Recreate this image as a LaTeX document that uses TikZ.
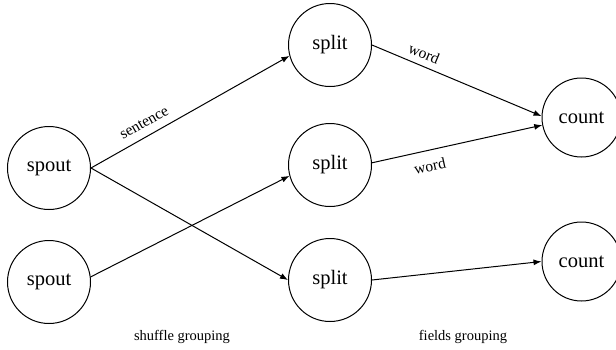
\documentclass[tikz,border=0pt]{standalone}
\usepackage{fontspec}
\setmainfont{Liberation Serif}
\usetikzlibrary{arrows.meta}
\begin{document}
\begin{tikzpicture}[x=1pt,y=-1pt,
  proc/.style={circle,draw,line width=1pt,minimum size=83pt,inner sep=0pt,font=\fontsize{20.5}{24}\selectfont},
  procs/.style={circle,draw,line width=1pt,minimum size=79pt,inner sep=0pt,font=\fontsize{20.5}{24}\selectfont},
  conn/.style={line width=1pt,-{Latex[length=8pt,width=6pt]}},
  lbl/.style={font=\fontsize{14.5}{17}\selectfont,inner sep=1pt},
  elbl/.style={font=\fontsize{15.5}{18}\selectfont,inner sep=1pt}]
\useasboundingbox (0,0) rectangle (616,349);
\node[proc] (spout1) at (49,168) {spout};
\node[proc] (spout2) at (49,282) {spout};
\node[proc] (split1) at (330,45) {split};
\node[proc] (split2) at (330,165) {split};
\node[proc] (split3) at (330,280) {split};
\node[procs] (count1) at (581.5,117.5) {count};
\node[procs] (count2) at (581.5,261.5) {count};
\draw[conn] (spout1.east) -- node[elbl,pos=0.3,sloped,above=7pt] {sentence} (split1.195);
\draw[conn] (spout1.east) -- (split3.west);
\draw[conn] (spout2.7) -- (split2.195);
\draw[conn] (split1.east) -- node[elbl,pos=0.28,sloped,above=5pt] {word} (count1.178);
\draw[conn] (split2.3) -- node[elbl,pos=0.32,sloped,below=9pt] {word} (count1.191);
\draw[conn] (split3.east) -- (count2.west);
\node[lbl] (sg) at (182,337) {shuffle grouping};
\node[lbl] (fg) at (463,337) {fields grouping};
\end{tikzpicture}
\end{document}
